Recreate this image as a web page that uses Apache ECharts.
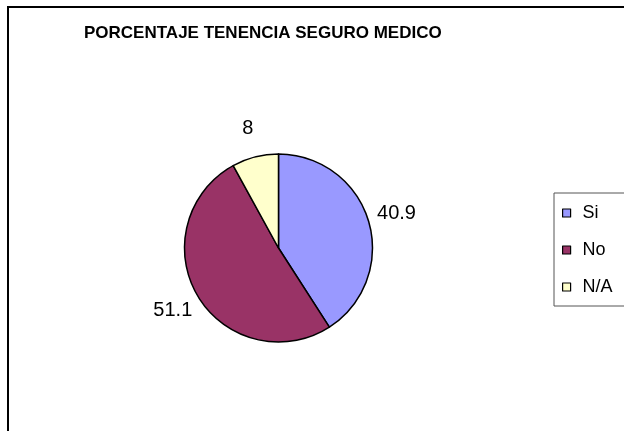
<!DOCTYPE html>
<html>
<head>
<meta charset="utf-8">
<script src="https://cdn.jsdelivr.net/npm/echarts@6/dist/echarts.min.js"></script>
<style>
  html, body { margin: 0; padding: 0; background: #fff; }
  #chart { width: 624px; height: 431px; }
</style>
</head>
<body>
<div id="chart"></div>
<script>
const categories = ['Si', 'No', 'N/A']
const values = [40.9, 51.1, 8]
const colors = ['#9999FF', '#993366', '#FFFFCC']

const pieData = categories.map((name, i) => ({ name: name, value: values[i] }))

let chart = echarts.init(document.getElementById('chart'))

let option = {
  animation: false,
  color: colors,
  title: {
    text: 'PORCENTAJE TENENCIA SEGURO MEDICO',
    left: 84,
    top: 25,
    padding: 0,
    textStyle: {
      fontFamily: 'Liberation Sans, Arial, sans-serif',
      fontSize: 17,
      fontWeight: 'bold',
      color: '#000'
    }
  },
  graphic: [{
    type: 'rect',
    silent: true,
    shape: { x: 8, y: 7, width: 700, height: 500 },
    style: { fill: 'none', stroke: '#000', lineWidth: 2 }
  }],
  legend: {
    orient: 'vertical',
    left: 554,
    top: 193,
    padding: [10, 60, 9, 8],
    itemGap: 17,
    itemWidth: 8,
    itemHeight: 8,
    icon: 'rect',
    borderColor: '#555',
    borderWidth: 1,
    itemStyle: { borderColor: '#000', borderWidth: 1.2 },
    data: categories,
    textStyle: {
      fontFamily: 'Liberation Sans, Arial, sans-serif',
      fontSize: 18,
      lineHeight: 20,
      color: '#000',
      padding: [0, 0, 0, 7]
    }
  },
  series: [
    {
      type: 'pie',
      center: [278.5, 248],
      radius: 94,
      startAngle: 90,
      clockwise: true,
      label: { show: false },
      labelLine: { show: false },
      itemStyle: { borderColor: '#000', borderWidth: 1.5 },
      data: pieData
    },
    {
      // transparent ring used only to place the value labels
      type: 'pie',
      silent: true,
      center: [278.5, 248],
      radius: [98, 142],
      startAngle: 90,
      clockwise: true,
      itemStyle: { color: 'rgba(0,0,0,0)', borderWidth: 0 },
      labelLine: { show: false },
      label: {
        show: true,
        position: 'inside',
        formatter: '{c}',
        fontFamily: 'Liberation Sans, Arial, sans-serif',
        fontSize: 20,
        color: '#000'
      },
      data: pieData
    }
  ]
}

chart.setOption(option)
</script>
</body>
</html>
